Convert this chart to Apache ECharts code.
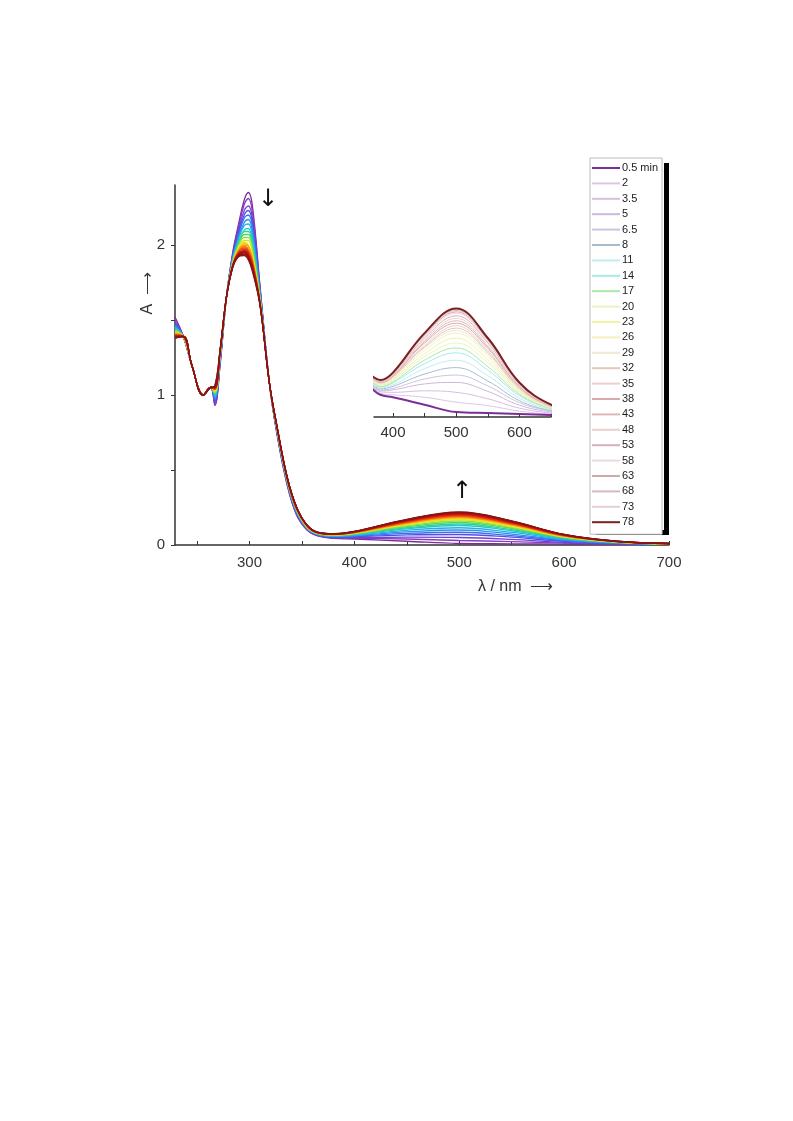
<!DOCTYPE html>
<html>
<head>
<meta charset="utf-8">
<script src="https://cdn.jsdelivr.net/npm/echarts@6/dist/echarts.min.js"></script>
<style>body{margin:0;background:#fff}#chart{width:793px;height:1121px}</style>
</head>
<body>
<div id="chart"></div>
<script>
const times = ['0.5 min','2','3.5','5','6.5','8','11','14','17','20','23','26','29','32','35','38','43','48','53','58','63','68','73','78'];

// wavelengths where every spectrum has its own reading
const wlUV = [229,267,272,284,289,295,299,303,310,326,336,345,355,365,380];
const wlVis = [400,450,500,550,600,650,700];
// wavelengths where all spectra overlap
const wlShared = [237,245,256,263,278,319];
const aShared = [1.39,1.20,1.00,1.05,1.65,1.08];

const uvRows = [
  [1.52,0.93,1.20,1.95,2.12,2.30,2.35,2.25,1.73,0.75,0.40,0.20,0.10,0.060,0.045],
  [1.51,0.94,1.21,1.94,2.10,2.27,2.31,2.21,1.72,0.75,0.40,0.20,0.10,0.062,0.048],
  [1.49,0.95,1.22,1.93,2.08,2.23,2.26,2.17,1.71,0.76,0.41,0.21,0.11,0.065,0.051],
  [1.48,0.96,1.23,1.92,2.07,2.20,2.23,2.14,1.70,0.76,0.41,0.21,0.11,0.067,0.053],
  [1.47,0.97,1.23,1.92,2.05,2.18,2.20,2.11,1.69,0.77,0.42,0.22,0.11,0.068,0.055],
  [1.46,0.98,1.24,1.91,2.04,2.15,2.17,2.08,1.68,0.77,0.42,0.22,0.11,0.070,0.057],
  [1.45,0.99,1.25,1.90,2.03,2.13,2.14,2.05,1.67,0.77,0.42,0.22,0.11,0.072,0.059],
  [1.45,1.00,1.25,1.90,2.01,2.10,2.11,2.02,1.66,0.78,0.43,0.23,0.12,0.073,0.061],
  [1.44,1.01,1.26,1.89,2.00,2.09,2.09,2.00,1.65,0.78,0.43,0.23,0.12,0.075,0.062],
  [1.43,1.01,1.26,1.89,1.99,2.07,2.07,1.98,1.65,0.78,0.43,0.23,0.12,0.076,0.064],
  [1.43,1.02,1.27,1.88,1.99,2.05,2.05,1.96,1.64,0.78,0.43,0.23,0.12,0.077,0.065],
  [1.42,1.02,1.27,1.88,1.98,2.03,2.03,1.94,1.64,0.79,0.44,0.24,0.12,0.078,0.067],
  [1.41,1.03,1.28,1.87,1.97,2.02,2.00,1.92,1.63,0.79,0.44,0.24,0.12,0.079,0.068],
  [1.41,1.03,1.28,1.87,1.96,2.01,1.99,1.91,1.63,0.79,0.44,0.24,0.12,0.080,0.069],
  [1.41,1.04,1.28,1.87,1.96,2.00,1.99,1.90,1.62,0.79,0.44,0.24,0.12,0.080,0.069],
  [1.40,1.04,1.28,1.87,1.95,1.99,1.97,1.89,1.62,0.79,0.44,0.24,0.13,0.081,0.070],
  [1.40,1.04,1.29,1.86,1.95,1.98,1.96,1.88,1.62,0.79,0.44,0.24,0.13,0.082,0.071],
  [1.40,1.04,1.29,1.86,1.94,1.97,1.95,1.87,1.62,0.79,0.44,0.24,0.13,0.082,0.071],
  [1.39,1.05,1.29,1.86,1.94,1.96,1.94,1.86,1.61,0.80,0.45,0.25,0.13,0.083,0.072],
  [1.39,1.05,1.29,1.86,1.93,1.96,1.93,1.85,1.61,0.80,0.45,0.25,0.13,0.083,0.073],
  [1.39,1.05,1.29,1.86,1.93,1.95,1.93,1.85,1.61,0.80,0.45,0.25,0.13,0.084,0.073],
  [1.39,1.05,1.30,1.86,1.93,1.95,1.92,1.84,1.61,0.80,0.45,0.25,0.13,0.084,0.074],
  [1.38,1.06,1.30,1.85,1.92,1.94,1.91,1.83,1.60,0.80,0.45,0.25,0.13,0.085,0.074],
  [1.38,1.06,1.30,1.85,1.92,1.93,1.90,1.82,1.60,0.80,0.45,0.25,0.13,0.085,0.075]
];
const visRows = [
  [0.040,0.025,0.010,0.008,0.006,0.004,0.003],
  [0.045,0.040,0.030,0.023,0.012,0.006,0.004],
  [0.050,0.053,0.050,0.037,0.018,0.008,0.004],
  [0.055,0.067,0.070,0.052,0.024,0.010,0.005],
  [0.058,0.077,0.085,0.063,0.029,0.012,0.005],
  [0.062,0.087,0.100,0.073,0.033,0.013,0.006],
  [0.065,0.098,0.115,0.084,0.038,0.015,0.006],
  [0.069,0.108,0.130,0.095,0.043,0.017,0.007],
  [0.071,0.115,0.140,0.102,0.046,0.018,0.007],
  [0.074,0.122,0.150,0.110,0.049,0.019,0.008],
  [0.076,0.128,0.160,0.116,0.052,0.019,0.008],
  [0.078,0.135,0.170,0.123,0.054,0.020,0.008],
  [0.080,0.140,0.175,0.128,0.056,0.021,0.008],
  [0.081,0.142,0.180,0.131,0.058,0.021,0.009],
  [0.082,0.145,0.185,0.134,0.059,0.022,0.009],
  [0.083,0.150,0.190,0.139,0.061,0.022,0.009],
  [0.084,0.153,0.195,0.142,0.062,0.023,0.009],
  [0.085,0.156,0.200,0.145,0.064,0.023,0.009],
  [0.087,0.160,0.205,0.150,0.066,0.024,0.010],
  [0.088,0.163,0.210,0.153,0.067,0.024,0.010],
  [0.089,0.166,0.213,0.156,0.068,0.024,0.010],
  [0.089,0.168,0.216,0.158,0.069,0.025,0.010],
  [0.090,0.169,0.218,0.159,0.070,0.025,0.010],
  [0.090,0.170,0.220,0.160,0.070,0.025,0.010]
];

const mainColors = ['#7a2e96','#8a3bc0','#7040d8','#5050e8','#3f6cf0','#2f8ff0','#20b0e8','#20c8d0','#30d0a0','#50d860',
  '#90e040','#c8e830','#f0e820','#f8c818','#f8a010','#f07810','#e85010','#e03010','#d81810','#c81010','#b81010','#a01010','#901010','#801818'];
const paleColors = ['#7a2e96','#dcc6e6','#d6bede','#cdb6dc','#c8c6dc','#a8bccc','#c0ecf0','#a8e8ec','#a8e8a8','#e8f4c0',
  '#f0f4a0','#f4f0c0','#ecead0','#e4c8b8','#f0cccc','#d8aaaa','#dcb8b8','#ecd0d0','#d8b0b8','#f0d8dc','#ccaaaa','#d8b8c0','#e4d0d4','#7a2020'];

function spectrum(i) {
  const pts = [];
  wlUV.forEach((w, k) => pts.push([w, uvRows[i][k]]));
  wlShared.forEach((w, k) => pts.push([w, aShared[k]]));
  wlVis.forEach((w, k) => pts.push([w, visRows[i][k]]));
  return pts.sort((a, b) => a[0] - b[0]);
}

const series = [];
times.forEach((t, i) => {
  const edge = i === 0 || i === times.length - 1;
  series.push({
    name: t, type: 'line', xAxisIndex: 1, yAxisIndex: 1, smooth: 0.4, symbol: 'none',
    data: spectrum(i).filter(p => p[0] >= 365),
    lineStyle: { color: paleColors[i], width: edge ? 2 : 1 }, itemStyle: { color: paleColors[i] }, z: edge ? 3 : 2
  });
});
times.forEach((t, i) => {
  series.push({
    name: t, type: 'line', xAxisIndex: 0, yAxisIndex: 0, smooth: 0.4, symbol: 'none',
    data: spectrum(i), lineStyle: { color: mainColors[i], width: 1.3 }, itemStyle: { color: mainColors[i] }
  });
});

const axisText = { color: '#333', fontSize: 15, fontFamily: 'Liberation Sans' };
const chart = echarts.init(document.getElementById('chart'));
chart.setOption({
  animation: false,
  grid: [
    { left: 175, right: 124, top: 185, bottom: 576 },
    { left: 374, right: 242, top: 301, bottom: 704 }
  ],
  xAxis: [
    { type: 'value', gridIndex: 0, min: 229, max: 700,
      axisLine: { lineStyle: { color: '#333', width: 1.5 } },
      axisTick: { inside: true, length: 4, customValues: [250,300,350,400,450,500,550,600,650,700], lineStyle: { color: '#333' } },
      axisLabel: { ...axisText, customValues: [300,400,500,600,700], margin: 10 },
      splitLine: { show: false } },
    { type: 'value', gridIndex: 1, min: 370, max: 650,
      axisLine: { lineStyle: { color: '#333', width: 1.5 } },
      axisTick: { inside: true, length: 4, customValues: [400,450,500,550,600,650], lineStyle: { color: '#333' } },
      axisLabel: { ...axisText, customValues: [400,500,600], margin: 8 },
      splitLine: { show: false } }
  ],
  yAxis: [
    { type: 'value', gridIndex: 0, min: 0, max: 2.4,
      axisLine: { show: true, lineStyle: { color: '#333', width: 1.5 } },
      axisTick: { show: true, inside: false, length: 4, customValues: [0,0.5,1,1.5,2], lineStyle: { color: '#333' } },
      axisLabel: { ...axisText, customValues: [0,1,2], margin: 10 },
      splitLine: { show: false } },
    { type: 'value', gridIndex: 1, min: 0, max: 0.235, show: false, splitLine: { show: false } }
  ],
  legend: {
    orient: 'vertical', left: 590, top: 158, width: 76, height: 420,
    backgroundColor: '#fff', borderColor: '#bbb', borderWidth: 1, padding: [4, 4, 6, 2],
    data: times.map(t => ({ name: t, icon: 'rect' })),
    itemWidth: 28, itemHeight: 2, itemGap: 3.4,
    textStyle: { fontSize: 11, lineHeight: 12, color: '#222', fontFamily: 'Liberation Sans', padding: [0, 0, 0, -3] }
  },
  graphic: [
    { type: 'rect', left: 664, top: 163, shape: { width: 5, height: 372 }, style: { fill: '#000' }, z: -1 },
    { type: 'rect', left: 596, top: 530, shape: { width: 73, height: 5 }, style: { fill: '#000' }, z: -1 },
    { type: 'text', left: 258, top: 188, style: { text: '↓', fontSize: 24, fill: '#111', fontFamily: 'DejaVu Sans' } },
    { type: 'text', left: 452, top: 480, style: { text: '↑', fontSize: 24, fill: '#111', fontFamily: 'DejaVu Sans' } },
    { type: 'text', left: 478, top: 579, style: { text: 'λ / nm  ⟶', fontSize: 16, fill: '#333', fontFamily: 'Liberation Sans' } },
    { type: 'text', left: 140, top: 272, rotation: Math.PI / 2, style: { text: 'A  ⟶', fontSize: 16, fill: '#333', fontFamily: 'Liberation Sans' } }
  ],
  series: series
});
</script>
</body>
</html>
